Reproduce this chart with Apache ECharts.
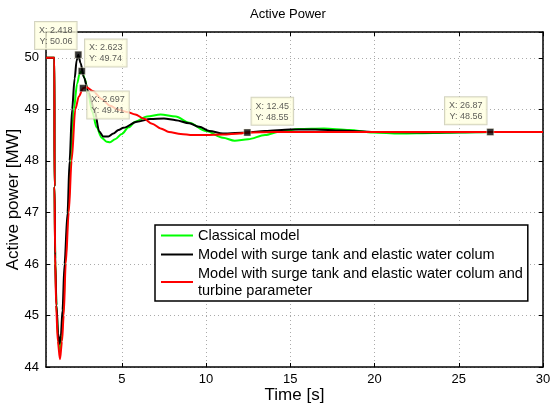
<!DOCTYPE html>
<html><head><meta charset="utf-8">
<script src="https://cdn.jsdelivr.net/npm/echarts@6/dist/echarts.min.js"></script>
<style>html,body{margin:0;padding:0;background:#fff}#c{width:551px;height:411px}</style>
</head><body><div id="c"></div>
<script>
const titleText = 'Active Power';
const xName = 'Time [s]';
const yName = 'Active power [MW]';
const seriesNames = ['Classical model', 'Model with surge tank and elastic water colum', 'Model with surge tank and elastic water colum and\nturbine parameter'];
const seriesColors = ['#00ff00', '#000000', '#ff0000'];

const tGreen = [0.5, 1.0, 1.005, 1.05, 1.12, 1.22, 1.31, 1.4, 1.52, 1.64, 1.82, 1.97, 2.15, 2.35, 2.5, 2.623, 2.8, 3.0, 3.25, 3.5, 3.8, 4.1, 4.3, 4.6, 5.0, 5.4, 5.8, 6.5, 7.3, 8.2, 9.0, 10.0, 11.0, 11.7, 12.5, 13.5, 14.4, 15.5, 17.0, 18.5, 19.9, 21.5, 23.5, 25.0, 27.0, 30.0];
const pGreen = [50, 50, 47.5, 46.1, 45.2, 44.55, 44.33, 44.5, 45.0, 46.0, 47.0, 48.0, 49.0, 49.5, 49.7, 49.74, 49.6, 49.3, 48.95, 48.65, 48.45, 48.37, 48.36, 48.42, 48.52, 48.65, 48.76, 48.86, 48.9, 48.86, 48.74, 48.58, 48.45, 48.39, 48.42, 48.5, 48.57, 48.62, 48.63, 48.6, 48.55, 48.53, 48.54, 48.55, 48.56, 48.56];

const tBlack = [0.5, 1.0, 1.005, 1.05, 1.12, 1.22, 1.3, 1.38, 1.48, 1.6, 1.78, 1.9, 2.05, 2.2, 2.32, 2.418, 2.55, 2.75, 3.0, 3.37, 3.66, 3.9, 4.2, 4.5, 4.8, 5.1, 5.9, 6.7, 7.5, 8.2, 9.0, 9.6, 10.2, 11.0, 12.45, 13.5, 15.0, 16.5, 18.0, 20.0, 23.0, 26.87, 30.0];
const pBlack = [50, 50, 47.5, 46.0, 45.2, 44.65, 44.45, 44.6, 45.1, 46.0, 47.0, 48.0, 49.0, 49.6, 49.95, 50.06, 49.9, 49.62, 49.35, 49.0, 48.57, 48.47, 48.47, 48.53, 48.6, 48.64, 48.76, 48.81, 48.82, 48.79, 48.73, 48.66, 48.58, 48.53, 48.55, 48.58, 48.61, 48.61, 48.59, 48.56, 48.55, 48.56, 48.56];

const tRed = [0.5, 1.0, 1.005, 1.04, 1.1, 1.2, 1.33, 1.45, 1.55, 1.67, 1.85, 2.02, 2.24, 2.45, 2.697, 2.9, 3.3, 3.8, 4.3, 4.8, 5.3, 5.8, 6.3, 6.8, 7.3, 7.8, 8.5, 9.2, 10.0, 11.0, 12.0, 12.45, 14.0, 20.0, 26.87, 30.0];
const pRed = [50, 50, 47.5, 46.2, 45.2, 44.5, 44.15, 44.5, 45.0, 46.0, 47.0, 48.0, 49.0, 49.25, 49.41, 49.43, 49.35, 49.2, 49.07, 48.99, 48.95, 48.9, 48.82, 48.72, 48.63, 48.56, 48.52, 48.5, 48.5, 48.51, 48.53, 48.55, 48.56, 48.56, 48.56, 48.56];

const tipX = [2.418, 2.623, 2.697, 12.45, 26.87];
const tipY = [50.06, 49.74, 49.41, 48.55, 48.56];
const tipLabels = tipX.map((x, i) => 'X: ' + x + '\nY: ' + tipY[i].toFixed(2));

// label placement of each data tip (layout only)
const tipPlace = [
  { pos: [2, -2], align: 'right', va: 'bottom' },
  { pos: [7, -1], align: 'left', va: 'bottom' },
  { pos: [8, 7], align: 'left', va: 'top' },
  { pos: [8, -4], align: 'left', va: 'bottom' },
  { pos: [0, -4], align: 'right', va: 'bottom' }
];

const FONT = 'Liberation Sans, Arial, sans-serif';
const chart = echarts.init(document.getElementById('c'), null, { renderer: 'canvas' });

const tValues = [tGreen, tBlack, tRed];
const pValues = [pGreen, pBlack, pRed];

const lineSeries = seriesNames.map((name, k) => ({
  name: name,
  type: 'line',
  xAxisIndex: 0, yAxisIndex: 0,
  data: tValues[k].map((t, i) => [t, pValues[k][i]]),
  showSymbol: false,
  smooth: 0.3,
  smoothMonotone: 'x',
  lineStyle: { color: seriesColors[k], width: 2 },
  itemStyle: { color: seriesColors[k] },
  z: 2 + k
}));

const tipSeries = {
  name: 'tips',
  type: 'scatter',
  xAxisIndex: 0, yAxisIndex: 0,
  symbol: 'rect',
  symbolSize: 7,
  itemStyle: { color: '#000', borderColor: '#fffbe0', borderWidth: 0.5 },
  zlevel: 1,
  z: 10,
  data: tipX.map((x, i) => ({
    value: [x, tipY[i]],
    label: {
      show: true,
      formatter: tipLabels[i],
      position: tipPlace[i].pos,
      align: tipPlace[i].align,
      verticalAlign: tipPlace[i].va
    }
  })),
  label: {
    show: true,
    fontFamily: FONT,
    fontSize: 9,
    lineHeight: 11,
    color: '#333',
    backgroundColor: '#ffffe1',
    borderColor: '#c8c8b0',
    borderWidth: 1,
    padding: [3, 4, 2, 4]
  },
  emphasis: { disabled: true }
};

const axisLineStyle = { color: '#000', width: 1.5 };

chart.setOption({
  animation: false,
  backgroundColor: '#fff',
  title: {
    text: titleText,
    left: 245, top: 3,
    textStyle: { fontFamily: FONT, fontSize: 13, fontWeight: 'normal', color: '#000' }
  },
  grid: { left: 46, right: 8, top: 32, bottom: 44, show: false, containLabel: false, outerBoundsMode: 'none' },
  legend: {
    data: seriesNames,
    orient: 'vertical',
    left: 155, top: 225,
    padding: [2, 5, 2, 6],
    itemGap: 2,
    itemWidth: 32, itemHeight: 2,
    icon: 'rect',
    backgroundColor: '#fff',
    borderColor: '#000',
    borderWidth: 1.5,
    borderRadius: 0,
    textStyle: { fontFamily: FONT, fontSize: 14.5, lineHeight: 17, color: '#000' },
    selectedMode: false
  },
  xAxis: [{
    type: 'value', min: 0.5, max: 30, splitNumber: 6,
    name: xName, nameLocation: 'middle', nameGap: 20, nameMoveOverlap: false,
    nameTextStyle: { fontFamily: FONT, fontSize: 17, color: '#000' },
    axisLine: { show: true, onZero: false, lineStyle: axisLineStyle },
    axisTick: { show: true, inside: true, length: 4, lineStyle: { color: '#000' } },
    axisLabel: { fontFamily: FONT, fontSize: 13, color: '#000', margin: 6, showMinLabel: false },
    splitLine: { show: true, lineStyle: { color: '#aaa', type: [1, 3], width: 1 } }
  }, {
    type: 'value', min: 0.5, max: 30, splitNumber: 6, position: 'top',
    axisLine: { show: true, onZero: false, lineStyle: axisLineStyle },
    axisTick: { show: true, inside: true, length: 4, lineStyle: { color: '#000' } },
    axisLabel: { show: false },
    splitLine: { show: false }
  }],
  yAxis: [{
    type: 'value', min: 44, max: 50.5, interval: 1,
    name: yName, nameLocation: 'middle', nameGap: 24, nameMoveOverlap: false,
    nameTextStyle: { fontFamily: FONT, fontSize: 17, color: '#000' },
    axisLine: { show: true, onZero: false, lineStyle: axisLineStyle },
    axisTick: { show: true, inside: true, length: 4, lineStyle: { color: '#000' } },
    axisLabel: { fontFamily: FONT, fontSize: 13, color: '#000', margin: 7, showMaxLabel: false,
      formatter: v => (Number.isInteger(v) ? String(v) : '') },
    splitLine: { show: true, lineStyle: { color: '#aaa', type: [1, 3], width: 1 } }
  }, {
    type: 'value', min: 44, max: 50.5, interval: 1, position: 'right',
    axisLine: { show: true, onZero: false, lineStyle: axisLineStyle },
    axisTick: { show: true, inside: true, length: 4, lineStyle: { color: '#000' } },
    axisLabel: { show: false },
    splitLine: { show: false }
  }],
  series: lineSeries.concat([tipSeries])
});
</script>
</body></html>
